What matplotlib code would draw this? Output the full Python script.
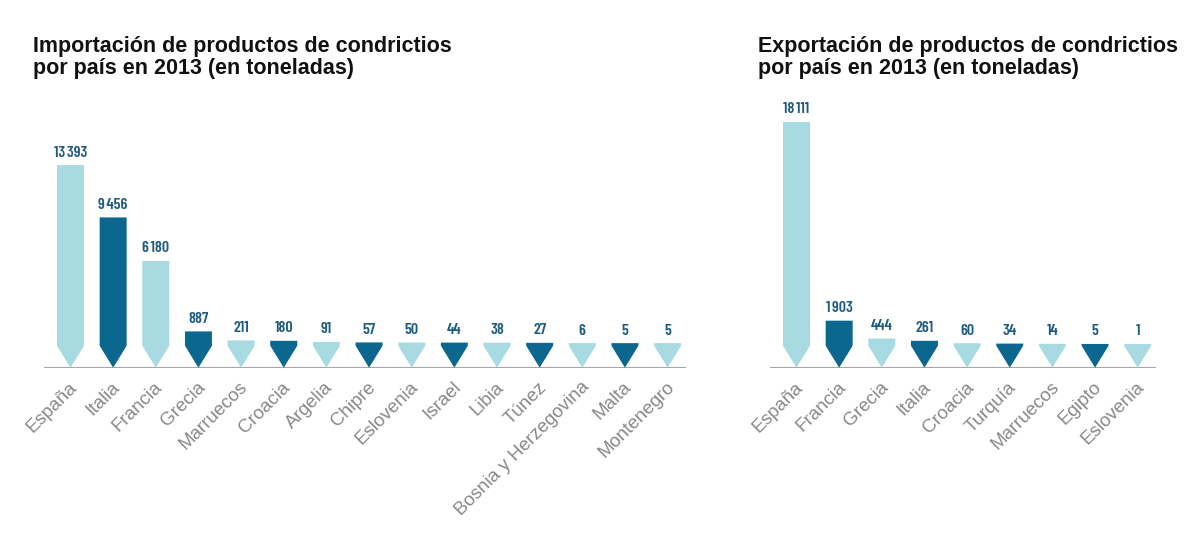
import matplotlib
matplotlib.use('Agg')
import matplotlib.pyplot as plt
from matplotlib.patches import Polygon
from matplotlib.transforms import ScaledTranslation

# data
imp_countries = ['España', 'Italia', 'Francia', 'Grecia', 'Marruecos', 'Croacia', 'Argelia',
                 'Chipre', 'Eslovenia', 'Israel', 'Libia', 'Túnez', 'Bosnia y Herzegovina',
                 'Malta', 'Montenegro']
imp_values = [13393, 9456, 6180, 887, 211, 180, 91, 57, 50, 44, 38, 27, 6, 5, 5]

exp_countries = ['España', 'Francia', 'Grecia', 'Italia', 'Croacia', 'Turquía', 'Marruecos',
                 'Egipto', 'Eslovenia']
exp_values = [18111, 1903, 444, 261, 60, 34, 14, 5, 1]

imp_title = 'Importación de productos de condrictios\npor país en 2013 (en toneladas)'
exp_title = 'Exportación de productos de condrictios\npor país en 2013 (en toneladas)'

LIGHT = '#a8dbe1'
DARK = '#0b678e'
NUM_COLOR = '#1d5b80'
LABEL_COLOR = '#888888'

fig = plt.figure(figsize=(12, 5.6), dpi=100)
W, H = 1200, 560


def draw_panel(left_px, right_px, countries, values, px_per_t, base_px, title, title_x):
    base_y = 367.7
    top_y = 110
    ax = fig.add_axes([left_px / W, 1 - base_y / H, (right_px - left_px) / W, (base_y - top_y) / H])
    n = len(values)
    step = 42.65
    first = 26.5
    ax.set_xlim(-first / step, (n - 1) + (right_px - left_px - first - (n - 1) * step) / step)
    ax.set_ylim(0, (base_y - top_y) / px_per_t)
    off = base_px / px_per_t      # every arrow keeps a minimum height
    tri = 22 / px_per_t           # height of the arrow tip
    hw = 13.5 / step
    for i, v in enumerate(values):
        c = LIGHT if i % 2 == 0 else DARK
        top = off + v
        pts = [(i - hw, top), (i + hw, top), (i + hw, tri), (i, 0), (i - hw, tri)]
        ax.add_patch(Polygon(pts, closed=True, facecolor=c, edgecolor='none'))
        txt = f'{v:,}'.replace(',', '\u200a')
        ax.annotate(txt, xy=(i, top), xytext=(0, 4), textcoords='offset points',
                    ha='center', va='bottom', color=NUM_COLOR, fontsize=11.5,
                    fontweight=600,
                    family=['Barlow Condensed', 'League Gothic', 'DejaVu Sans'])
    ax.axhline(0, color='#a6a6a6', lw=1.5, zorder=0)
    for s in ax.spines.values():
        s.set_visible(False)
    ax.set_yticks([])
    ax.set_xticks(range(n))
    ax.set_xticklabels(countries, rotation=45, ha='right', va='center', rotation_mode='anchor',
                       color=LABEL_COLOR, fontsize=13.5, family='Liberation Sans')
    ax.tick_params(axis='x', length=0, pad=0)
    shift = ScaledTranslation(4 / 100, -17 / 100, fig.dpi_scale_trans)
    for lab in ax.get_xticklabels():
        lab.set_transform(lab.get_transform() + shift)
    fig.text(title_x / W, 1 - 36 / H, title, ha='left', va='top', fontsize=15.5,
             fontweight='bold', family='Liberation Sans', color='#111111', linespacing=1.08)
    return ax


draw_panel(44, 686, imp_countries, imp_values, 0.0133, 24.5, imp_title, 33)
draw_panel(770, 1156, exp_countries, exp_values, 0.01226, 23.7, exp_title, 758)

fig.savefig('out.png', dpi=100)
